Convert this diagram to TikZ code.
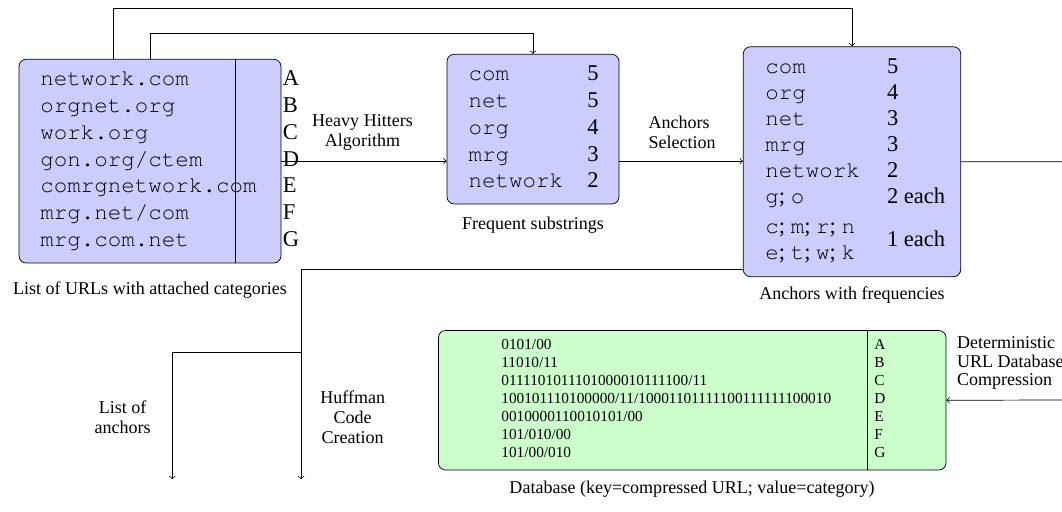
\documentclass[tikz,border=0pt]{standalone}
\usepackage{fontspec}
\setmainfont{Liberation Serif}
\setmonofont{Liberation Mono}
\usepackage{tikz}
\usetikzlibrary{fit,positioning}
\newcommand{\courier}{\fontencoding{T1}\fontfamily{pcr}\selectfont}
\newcommand{\boxtt}{\fontsize{12.5}{15}\selectfont\courier}
\newcommand{\boxrm}{\fontsize{12.5}{15}\selectfont}
\newcommand{\dbrm}{\fontsize{8.5}{10}\selectfont}
\newcommand{\ctt}[1]{{\courier #1}}

\begin{document}
\begin{tikzpicture}[x=0.555pt,y=-0.555pt,
	box/.style={draw,rounded corners=4pt,fill=blue!20,inner sep=0pt},
	dbbox/.style={draw,rounded corners=4pt,fill=green!20,inner sep=0pt},
	url/.style={anchor=base west,inner sep=0pt,font=\boxtt},
	num/.style={anchor=base west,inner sep=0pt,font=\boxrm},
	bits/.style={anchor=base west,inner sep=0pt,font=\dbrm},
	lbl/.style={inner sep=0pt,font=\fontsize{10}{11.1}\selectfont,align=center},
	capt/.style={anchor=base,inner sep=0pt,font=\fontsize{10}{12}\selectfont}]
	\useasboundingbox (0,0) rectangle (1062,512);
	\clip (0,0) rectangle (1062,512);

	\node[box,fit={(19,59.3) (281,263)}] (urls) {};
	\node[box,fit={(447,54.3) (619,204)}] (freq) {};
	\node[box,fit={(743.3,46.7) (960.7,276.7)}] (anch) {};
	\node[dbbox,fit={(438.4,330.5) (946,470)}] (db) {};
	\draw (235,59.3) -- (235,263);
	\draw (867,330.5) -- (867,470);

	\foreach \u/\c [count=\i from 0] in {network.com/A,orgnet.org/B,work.org/C,{gon.org/ctem}/D,comrgnetwork.com/E,{mrg.net/com}/F,mrg.com.net/G}{
		\node[url] (u\i) at (40,86+26.67*\i) {\u};
		\node[num] (k\i) at (282.5,86+26.67*\i) {\c};
	}
	\foreach \s/\n [count=\i from 0] in {com/5,net/5,org/4,mrg/3,network/2}{
		\node[url] (f\i) at (468.3,81+26.67*\i) {\s};
		\node[num,anchor=base east] (fn\i) at (599,81+26.67*\i) {\n};
	}
	\foreach \s/\n [count=\i from 0] in {com/5,org/4,net/3,mrg/3,network/2}{
		\node[url] (a\i) at (765,73.3+26.1*\i) {\s};
		\node[num] (an\i) at (886.7,73.3+26.1*\i) {\n};
	}
	\node[num] (a5) at (765,204) {\ctt{g}; \ctt{o}};
	\node[num] (an5) at (886.7,204) {2 each};
	\node[num] (a6) at (765,233.3) {\ctt{c}; \ctt{m}; \ctt{r}; \ctt{n}};
	\node[num] (a7) at (765,260) {\ctt{e}; \ctt{t}; \ctt{w}; \ctt{k}};
	\node[num] (an6) at (886.7,246.7) {1 each};

	\foreach \k/\c [count=\i from 0] in {{0101/00}/A,{11010/11}/B,{0111101011101000010111100/11}/C,{100101110100000/11/10001101111100111111100010}/D,{0010000110010101/00}/E,{101/010/00}/F,{101/00/010}/G}{
		\node[bits] (d\i) at (501,350+17.93*\i) {\k};
		\node[bits] (dk\i) at (874,350+17.93*\i) {\c};
	}

	\node[capt] (c1) at (150,295) {List of URLs with attached categories};
	\node[capt] (c2) at (533,229.3) {Frequent substrings};
	\node[capt] (c3) at (852,300) {Anchors with frequencies};
	\node[capt] (c4) at (692,494) {Database (key=compressed URL; value=category)};

	\node[lbl] (hh) at (362.5,132.7) {Heavy Hitters\\Algorithm};
	\node[lbl,align=left,anchor=west] (as) at (648.3,132.7) {Anchors\\Selection};
	\node[lbl] (la) at (122.7,417.2) {List of\\anchors};
	\node[lbl] (hc) at (352.7,417.7) {Huffman\\Code\\Creation};
	\node[lbl,align=left,anchor=west,font=\fontsize{10}{10.2}\selectfont] (dc) at (956.7,363.3) {Deterministic\\URL Database\\Compression};

	\coordinate (t1) at (113,8);
	\coordinate (t2) at (150,33.3);
	\coordinate (r1) at (1080,161);
	\coordinate (r2) at (1080,400);
	\coordinate (b1) at (301,269.3);
	\coordinate (b2) at (301,352.3);
	\coordinate (e1) at (301,479.3);
	\coordinate (e2) at (172.3,479.3);

	\draw[->] (urls.east) -- (urls.east -| freq.west);
	\draw[->] (urls.east -| freq.east) -- (urls.east -| anch.west);
	\draw[->] (urls.north -| t1) -- (t1) -| (anch.north);
	\draw[->] (urls.north -| t2) -- (t2) -| (freq.north);
	\draw[->] (anch.east) -- (anch.east -| r1) -- (r2) -- (db.east);
	\draw[->] (anch.west |- b1) -- (b1) -- (e1);
	\draw[->] (b2) -| (e2);
\end{tikzpicture}
\end{document}
